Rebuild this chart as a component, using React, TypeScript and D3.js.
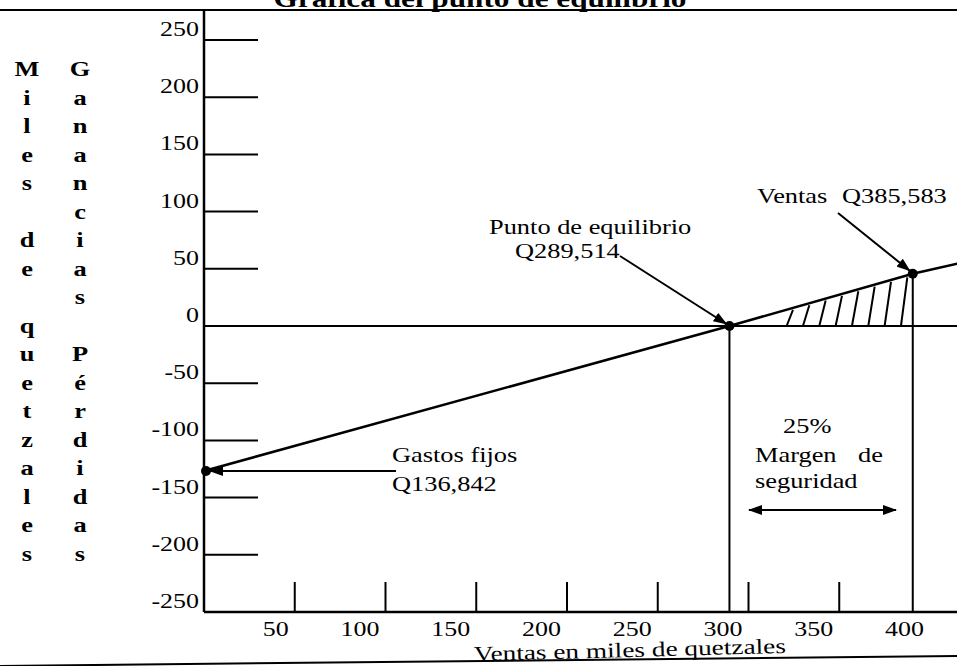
import * as d3 from 'd3';

const W = 957;
const H = 666;

// valores (miles de quetzales)
const yTicks = [250, 200, 150, 100, 50, 0, -50, -100, -150, -200, -250];
const xTickMarks = [50, 100, 150, 200, 250, 300, 350];
const xTickLabels = [50, 100, 150, 200, 250, 300, 350, 400];
const ventas = [0, 289.5, 390.5, 415];
const utilidad = [-126.7, 0, 45.7, 54.5];
const puntos = [0, 1, 2];
const titulo = 'Gráfica del punto de equilibrio';
const tituloX = 'Ventas en miles de quetzales';
const tituloY1 = 'Miles de quetzales';
const tituloY2 = 'Ganancias Pérdidas';

const FONT = "'Liberation Serif', 'Times New Roman', serif";

const x = d3.scaleLinear().domain([0, 400]).range([204, 930]);
const y = d3.scaleLinear().domain([-250, 250]).range([612, 40]);
const profitAt = d3.scaleLinear().domain(ventas).range(utilidad);

const T = ({ x, y, children, anchor = 'start', size = 22, weight = 'normal', sx = 1.2, rot = 0 }: any) => (
  <text
    transform={`translate(${x},${y}) rotate(${rot}) scale(${sx},1)`}
    textAnchor={anchor}
    fontSize={size}
    fontWeight={weight}
    fontFamily={FONT}
    fill="#000"
  >
    {children}
  </text>
);

export default function App() {
  const line = d3.line<number>().x((_, i) => x(ventas[i])).y((d) => y(d));
  const xAxisY = y(-250);

  // rayado del margen de seguridad
  const hatch = d3.range(321, ventas[2] - 3, 9).map((v) => {
    const v2 = v + 3.5;
    return { x1: x(v), y1: y(0), x2: x(v2), y2: y(profitAt(v2)) + 2 };
  });

  const letras = (s: string, cx: number) =>
    s.split('').map((c, i) =>
      c === ' ' ? null : (
        <T key={cx + '-' + i} x={cx} y={76 + i * 28.5} anchor="middle" size={22} weight="bold" sx={1.2}>
          {c}
        </T>
      )
    );

  return (
    <svg
      width={W}
      height={H}
      style={{ position: 'absolute', left: 0, top: 0, background: '#fff' }}
    >
      <defs>
        <marker id="head" viewBox="0 0 14 10" refX="13" refY="5" markerWidth="14" markerHeight="10" markerUnits="userSpaceOnUse" orient="auto-start-reverse">
          <path d="M0,0 L14,5 L0,10 z" fill="#000" />
        </marker>
      </defs>

      {/* título y bordes */}
      <T x={480} y={7} anchor="middle" size={25} weight="bold" sx={1.25}>{titulo}</T>
      <line x1={0} x2={W} y1={10} y2={10} stroke="#000" strokeWidth={2} />
      <line x1={0} x2={W} y1={666} y2={656} stroke="#000" strokeWidth={2} />

      {/* títulos del eje y en letras verticales */}
      {letras(tituloY1, 27)}
      {letras(tituloY2, 80)}

      {/* eje y */}
      <line x1={204} x2={204} y1={10} y2={xAxisY} stroke="#000" strokeWidth={2.5} />
      {yTicks.map((v) => (
        <g key={v}>
          {v !== 0 && v !== -250 && (
            <line x1={204} x2={258} y1={y(v)} y2={y(v)} stroke="#000" strokeWidth={2} />
          )}
          <T x={199} y={y(v) - 4} anchor="end" size={22} sx={1.18}>{v}</T>
        </g>
      ))}
      <line x1={204} x2={W} y1={y(0)} y2={y(0)} stroke="#000" strokeWidth={2} />

      {/* eje x */}
      <line x1={204} x2={W} y1={xAxisY} y2={xAxisY} stroke="#000" strokeWidth={2.5} />
      {xTickMarks.map((v) => (
        <line key={v} x1={x(v)} x2={x(v)} y1={xAxisY} y2={xAxisY - 30} stroke="#000" strokeWidth={2} />
      ))}
      {xTickLabels.map((v) => (
        <T key={v} x={x(v) - 6} y={636} anchor="end" size={22} sx={1.18}>{v}</T>
      ))}
      <T x={630} y={657} anchor="middle" size={21} sx={1.3} rot={-1.5}>{tituloX}</T>

      {/* rayado */}
      {hatch.map((h, i) => (
        <line key={i} {...h} stroke="#000" strokeWidth={2} />
      ))}

      {/* recta de utilidad */}
      <path d={line(utilidad) || ''} fill="none" stroke="#000" strokeWidth={2.5} />

      {/* verticales al punto de equilibrio y a las ventas */}
      {[1, 2].map((i) => (
        <line key={i} x1={x(ventas[i])} x2={x(ventas[i])} y1={y(utilidad[i])} y2={xAxisY} stroke="#000" strokeWidth={2} />
      ))}

      {puntos.map((i) => (
        <circle key={i} cx={x(ventas[i]) + (i === 0 ? 2 : 0)} cy={y(utilidad[i])} r={5} fill="#000" />
      ))}

      {/* anotaciones */}
      <T x={489} y={234}>Punto de equilibrio</T>
      <T x={515} y={258}>Q289,514</T>
      <line x1={620} y1={256} x2={x(ventas[1]) - 3} y2={y(0) - 2} stroke="#000" strokeWidth={2} markerEnd="url(#head)" />

      <T x={757} y={203}>Ventas</T>
      <T x={842} y={203}>Q385,583</T>
      <line x1={838} y1={213} x2={x(ventas[2]) - 3} y2={y(utilidad[2]) - 3} stroke="#000" strokeWidth={2} markerEnd="url(#head)" />

      <T x={392} y={462}>Gastos fijos</T>
      <T x={392} y={491}>Q136,842</T>
      <line x1={396} y1={y(utilidad[0])} x2={x(0) + 6} y2={y(utilidad[0])} stroke="#000" strokeWidth={2} markerEnd="url(#head)" />

      <T x={783} y={433}>25%</T>
      <T x={755} y={462}>Margen</T>
      <T x={858} y={462}>de</T>
      <T x={755} y={488}>seguridad</T>
      <line x1={749} y1={510} x2={896} y2={510} stroke="#000" strokeWidth={2} markerStart="url(#head)" markerEnd="url(#head)" />
    </svg>
  );
}
